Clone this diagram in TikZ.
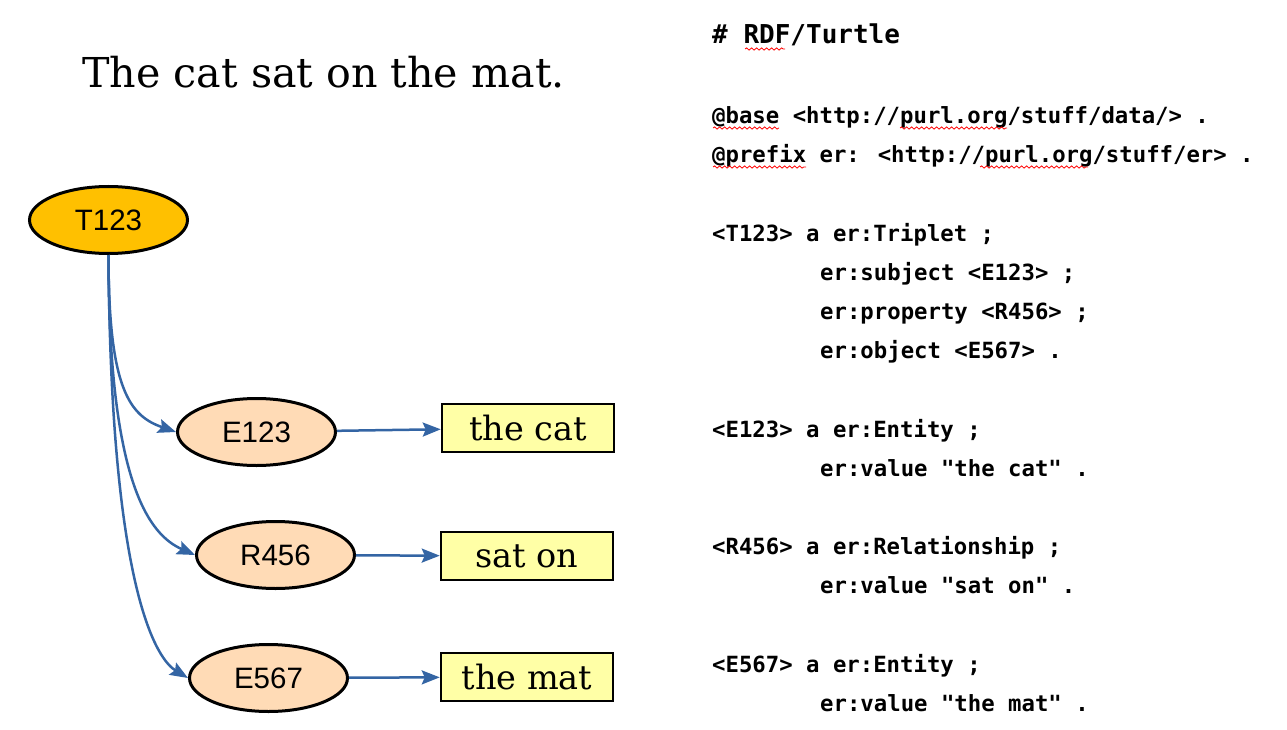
\documentclass[tikz,border=0pt]{standalone}
\usepackage{fontspec}
\setmainfont{DejaVu Serif}
\newfontfamily\labelfont{Liberation Sans}
\newfontfamily\codefont{DejaVu Sans Mono}
\usetikzlibrary{shapes.geometric,arrows.meta,decorations.pathmorphing}
\definecolor{edgeblue}{HTML}{3465A4}
\definecolor{tfill}{HTML}{FFC000}
\definecolor{efill}{HTML}{FFDBB6}
\definecolor{boxfill}{HTML}{FFFFA6}
\tikzset{
  ell/.style={ellipse, draw=black, line width=3pt, minimum width=158pt, minimum height=67pt, inner sep=0pt,
    font=\labelfont\fontsize{29.5pt}{34pt}\selectfont},
  valbox/.style={rectangle, draw=black, line width=2.5pt, fill=boxfill, minimum width=172pt, minimum height=48pt, inner sep=0pt,
    font=\fontsize{33.5pt}{38pt}\selectfont},
  code/.style={anchor=base west, inner sep=0pt, font=\codefont\bfseries\fontsize{22.3pt}{26pt}\selectfont},
  conn/.style={draw=edgeblue, line width=2.5pt, -{Stealth[length=18pt,width=14pt,inset=3pt]}},
  squig/.style={draw=red, line width=0.8pt, decorate, decoration={snake, amplitude=1.1pt, segment length=5pt}}
}
\begin{document}
\begin{tikzpicture}[x=1pt,y=-1pt]
\useasboundingbox (0,0) rectangle (1287,730);
% title
\node[inner sep=0pt, anchor=base, font=\fontsize{41.2pt}{48pt}\selectfont] (title) at (323.5,88) {The cat sat on the mat.};
% nodes
\node[ell, fill=tfill] (t) at (108.5,220) {T123};
\node[ell, fill=efill] (e1) at (256.5,432) {E123};
\node[ell, fill=efill] (r) at (275.5,555) {R456};
\node[ell, fill=efill] (e2) at (268.5,678) {E567};
\node[valbox] (b1) at (528,428) {the cat};
\node[valbox] (b2) at (527,556) {sat on};
\node[valbox] (b3) at (527,677) {the mat};
% connectors
\draw[conn] (t.south) .. controls +(0,135) and +(-46,-16) .. (e1.west);
\draw[conn] (t.south) .. controls +(0,230) and +(-45,-20) .. (r.west);
\draw[conn] (t.south) .. controls +(2,340) and +(-30,-18) .. (e2.west);
\draw[conn] (e1) -- (b1);
\draw[conn] (r) -- (b2);
\draw[conn] (e2) -- (b3);
% code
\node[code, font=\codefont\bfseries\fontsize{26pt}{30pt}\selectfont] (c0) at (712,44) {\# RDF/Turtle};
\node[code] (c1) at (712,124) {@base <http://purl.org/stuff/data/> .};
\node[code] (c2) at (712,163) {@prefix er: <http://purl.org/stuff/er> .};
\node[code] (c3) at (712,241) {<T123> a er:Triplet ;};
\node[code] (c4) at (820,280) {er:subject <E123> ;};
\node[code] (c5) at (820,319) {er:property <R456> ;};
\node[code] (c6) at (820,358) {er:object <E567> .};
\node[code] (c7) at (712,437) {<E123> a er:Entity ;};
\node[code] (c8) at (820,476) {er:value "the cat" .};
\node[code] (c9) at (712,554) {<R456> a er:Relationship ;};
\node[code] (c10) at (820,593) {er:value "sat on" .};
\node[code] (c11) at (712,672) {<E567> a er:Entity ;};
\node[code] (c12) at (820,711) {er:value "the mat" .};
% spell-check squiggles
\draw[squig] (745,49) -- (785,49);
\draw[squig] (713,128) -- (779,128);
\draw[squig] (900,128) -- (1007,128);
\draw[squig] (713,167) -- (806,167);
\draw[squig] (980,167) -- (1088,167);
\end{tikzpicture}
\end{document}
